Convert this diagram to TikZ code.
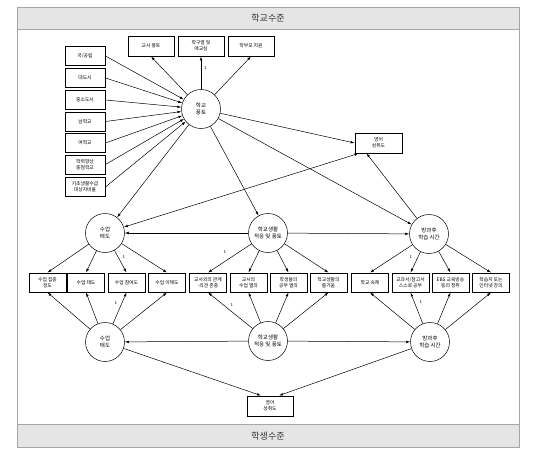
\documentclass[tikz,border=0pt]{standalone}
\usepackage{fontspec}
\usepackage{tikz}
\usetikzlibrary{arrows.meta}
\newfontfamily\krfont{Noto Sans CJK KR}

\tikzset{
  obs/.style={draw, line width=0.9pt, minimum width=37pt, minimum height=19pt, inner sep=0.5pt, align=center, font=\krfont\fontsize{4.8}{6.2}\selectfont},
  lat/.style={draw, circle, line width=0.5pt, minimum size=39pt, inner sep=0pt, align=center, font=\krfont\fontsize{5.5}{7.5}\selectfont},
  arr/.style={-{Latex[length=4pt,width=2.6pt]}, line width=0.5pt},
  both/.style={{Latex[length=4pt,width=2.6pt]}-{Latex[length=4pt,width=2.6pt]}, line width=0.5pt},
  one/.style={font=\fontsize{4.5}{5}\selectfont, inner sep=0pt},
  level/.style={font=\krfont\fontsize{9}{10}\selectfont, text=black!80},
}

\begin{document}
\begin{tikzpicture}[x=1pt,y=-1pt]
\useasboundingbox (0,0) rectangle (536,455);
% frame and level bars
\draw[gray!70, fill=gray!20] (17,7) rectangle (519,29);
\draw[gray!70, fill=gray!20] (17,424) rectangle (519,447);
\draw[gray!70] (17,29) -- (17,424);
\draw[gray!70] (519,29) -- (519,424);
\node[level] (top) at (268,18) {학교수준};
\node[level] (bot) at (268,436) {학생수준};
% school level
\node[obs, minimum width=40pt] (s1) at (85,56) {국/공립};
\node[obs, minimum width=40pt] (s2) at (85,78) {대도시};
\node[obs, minimum width=40pt] (s3) at (85,100) {중소도시};
\node[obs, minimum width=40pt] (s4) at (85,121.5) {남학교};
\node[obs, minimum width=40pt] (s5) at (85,143) {여학교};
\node[obs, minimum width=40pt] (s6) at (85,164.5) {학력향상\\중점학교};
\node[obs, minimum width=40pt] (s7) at (85,187) {기초생활수급\\대상자비율};
\node[obs, minimum width=46pt, minimum height=20pt] (t1) at (151,46) {교사 풍토};
\node[obs, minimum width=46pt, minimum height=20pt] (t2) at (201,46) {학구열 및\\애교심};
\node[obs, minimum width=46pt, minimum height=20pt] (t3) at (251,46) {학부모 지원};
\node[lat] (c0) at (201,109) {학교\\풍토};
\node[obs, minimum width=47pt, minimum height=20pt] (e1) at (378.5,143) {영어\\성취도};
\node[one] (l0) at (205.5,68) {1};
% upper factors
\node[lat] (m1) at (105,233) {수업\\태도};
\node[lat] (m2) at (268,233) {학교생활\\적응 및 풍토};
\node[lat] (m3) at (429,234) {방과후\\학습 시간};
% indicators
\node[obs] (r1) at (47.5,282.5) {수업 집중\\정도};
\node[obs] (r2) at (86,282.5) {수업 태도};
\node[obs] (r3) at (126.5,282.5) {수업 참여도};
\node[obs] (r4) at (167,282.5) {수업 이해도};
\node[obs] (r5) at (208,282.5) {교사와의 관계\\-의견 존중};
\node[obs] (r6) at (248.5,282.5) {교사의\\수업 열의};
\node[obs] (r7) at (288.5,282.5) {학생들의\\공부 열의};
\node[obs] (r8) at (328.5,282.5) {학교생활의\\즐거움};
\node[obs] (r9) at (370,282.5) {학교 숙제};
\node[obs] (r10) at (410.5,282.5) {교과서/참고서\\스스로 공부};
\node[obs] (r11) at (450.5,282.5) {EBS 교육방송\\등의 청취};
\node[obs] (r12) at (491,282.5) {학습지 또는\\인터넷 강의};
\node[one] (l1) at (124,257) {1};
\node[one] (l2) at (225,252) {1};
\node[one] (l3) at (411,257) {1};
% lower factors
\node[lat] (n1) at (105,342) {수업\\태도};
\node[lat] (n2) at (268,341) {학교생활\\적응 및 풍토};
\node[lat] (n3) at (430,342) {방과후\\학습 시간};
\node[one] (l4) at (116,303) {1};
\node[one] (l5) at (232,305) {1};
\node[one] (l6) at (421,302) {1};
\node[obs, minimum width=46pt, minimum height=20pt] (e2) at (270,406) {영어\\성취도};
% school level paths
\draw[arr] (s1.east) -- (c0);
\draw[arr] (s2.east) -- (c0);
\draw[arr] (s3.east) -- (c0);
\draw[arr] (s4.east) -- (c0);
\draw[arr] (s5.east) -- (c0);
\draw[arr] (s6.east) -- (c0);
\draw[arr] (s7.east) -- (c0);
\draw[arr] (c0) -- (t1.south);
\draw[arr] (c0) -- (t2.south);
\draw[arr] (c0) -- (t3.south);
\draw[arr] (c0) -- (e1.west);
\draw[arr] (c0) -- (m1);
\draw[arr] (c0) -- (m2);
\draw[arr] (c0) -- (m3);
\draw[both] (m1) -- ([xshift=4pt]e1.south west);
\draw[arr] (m3) -- ([xshift=12pt]e1.south west);
\draw[arr] (m2) -- (m1);
\draw[arr] (m2) -- (m3);
% upper loadings
\draw[arr] (m1) -- (r1.north);
\draw[arr] (m1) -- (r2.north);
\draw[arr] (m1) -- (r3.north);
\draw[arr] (m1) -- (r4.north);
\draw[arr] (m2) -- (r5.north);
\draw[arr] (m2) -- (r6.north);
\draw[arr] (m2) -- (r7.north);
\draw[arr] (m2) -- (r8.north);
\draw[arr] (m3) -- (r9.north);
\draw[arr] (m3) -- (r10.north);
\draw[arr] (m3) -- (r11.north);
\draw[arr] (m3) -- (r12.north);
% lower loadings
\draw[arr] (n1) -- (r1.south);
\draw[arr] (n1) -- (r2.south);
\draw[arr] (n1) -- (r3.south);
\draw[arr] (n1) -- (r4.south);
\draw[arr] (n2) -- (r5.south);
\draw[arr] (n2) -- (r6.south);
\draw[arr] (n2) -- (r7.south);
\draw[arr] (n2) -- (r8.south);
\draw[arr] (n3) -- (r9.south);
\draw[arr] (n3) -- (r10.south);
\draw[arr] (n3) -- (r11.south);
\draw[arr] (n3) -- (r12.south);
% student level paths
\draw[arr] (n2) -- (n1);
\draw[arr] (n2) -- (n3);
\draw[arr] (n1) -- ([xshift=-9pt]e2.north);
\draw[arr] (n3) -- ([xshift=9pt]e2.north);
\end{tikzpicture}
\end{document}
